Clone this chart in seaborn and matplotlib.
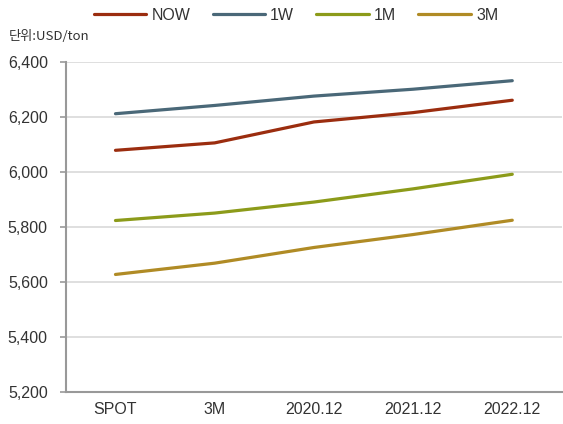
import pandas as pd
import seaborn as sns
import matplotlib.pyplot as plt
from matplotlib.ticker import FixedLocator, FuncFormatter

# chart data
categories = ["SPOT", "3M", "2020.12", "2021.12", "2022.12"]
now_vals = [6078, 6105, 6181, 6215, 6260]
w1_vals = [6211, 6241, 6275, 6300, 6331]
m1_vals = [5823, 5850, 5890, 5938, 5991]
m3_vals = [5627, 5668, 5725, 5772, 5824]
series_names = ["NOW", "1W", "1M", "3M"]
colors = ["#9b2d0f", "#4a6878", "#8c9b1a", "#b08b25"]

rows = []
for name, vals in zip(series_names, [now_vals, w1_vals, m1_vals, m3_vals]):
    for cat, v in zip(categories, vals):
        rows.append({"cat": cat, "val": v, "series": name})
df = pd.DataFrame(rows)

sns.set_style("white")
plt.rcParams['font.family'] = ['Liberation Sans', 'Noto Sans CJK KR', 'DejaVu Sans']

fig = plt.figure(figsize=(5.63, 4.24), dpi=100)
ax = fig.add_axes([0.117, 0.0755, 0.881, 0.779])

sns.lineplot(data=df, x="cat", y="val", hue="series", hue_order=series_names,
             palette=colors, linewidth=2.3, sort=False, ax=ax)

ax.set_xlim(-0.5, 4.5)
ax.set_ylim(5200, 6400)
ax.set_yticks(range(5200, 6401, 200))
ax.yaxis.set_major_formatter(FuncFormatter(lambda v, p: f"{int(v):,}"))
ax.set_xlabel("")
ax.set_ylabel("")

# horizontal gridlines
ax.grid(axis="y", color="#d9d9d9", linewidth=1.2)
ax.set_axisbelow(True)

for side in ["top", "right"]:
    ax.spines[side].set_visible(False)
for side in ["left", "bottom"]:
    ax.spines[side].set_color("#999999")
    ax.spines[side].set_linewidth(1.5)

# tick marks between categories
ax.xaxis.set_minor_locator(FixedLocator([-0.5, 0.5, 1.5, 2.5, 3.5]))
ax.tick_params(axis="x", which="major", length=0, pad=7, labelsize=11.5, labelcolor="#333333")
ax.tick_params(axis="x", which="minor", length=4, width=1.2, color="#999999", direction="out")
ax.tick_params(axis="y", which="major", length=4, width=1.2, color="#999999",
               left=True, pad=9, labelsize=11.5, labelcolor="#333333")

ax.legend(loc="center", bbox_to_anchor=(0.464, 1.141), ncol=4, frameon=False,
          handlelength=3.3, handletextpad=0.3, columnspacing=1.4, fontsize=11.5,
          labelcolor="#333333")

fig.text(0.015, 0.905, "단위:USD/ton", fontsize=9.5, color="#333333",
         family=['Noto Sans CJK KR', 'DejaVu Sans'])

fig.savefig("out.png", dpi=100)
